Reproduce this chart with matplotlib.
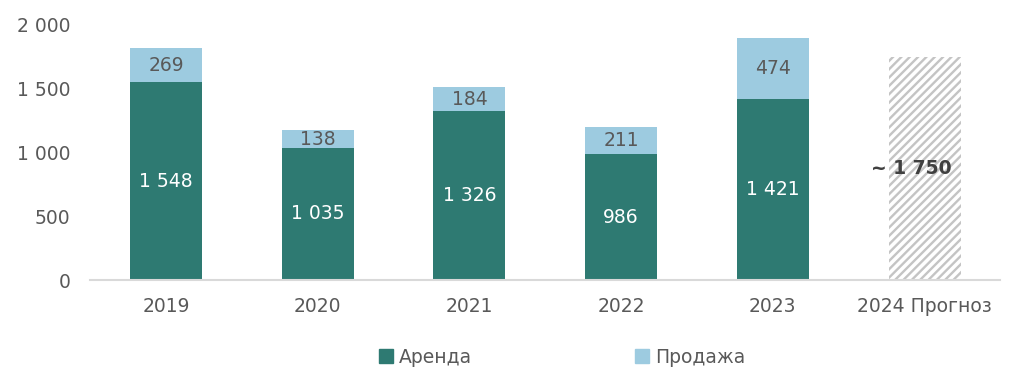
import numpy as np
import matplotlib
matplotlib.use("Agg")
import matplotlib.pyplot as plt
from matplotlib.patches import Patch

# Данные
years = ["2019", "2020", "2021", "2022", "2023", "2024 Прогноз"]
arenda = [1548, 1035, 1326, 986, 1421]
prodazha = [269, 138, 184, 211, 474]
prognoz = 1750

c_arenda = "#2E7A72"
c_prodazha = "#9DCBE0"
c_text = "#595959"

def fmt(v):
    return "{:,}".format(int(v)).replace(",", " ")

plt.rcParams["font.family"] = ["DejaVu Sans"]
plt.rcParams["hatch.linewidth"] = 1.7

fig = plt.figure(figsize=(10.24, 3.82), dpi=100)
ax = fig.add_axes([0.088, 0.267, 0.889, 0.668])

x = np.arange(len(years))
w = 0.475
xa = x[:len(arenda)]

ax.bar(xa, arenda, w, color=c_arenda, label="Аренда")
ax.bar(xa, prodazha, w, bottom=arenda, color=c_prodazha, label="Продажа")
ax.bar(x[-1], prognoz, w, color="white", edgecolor="#C4C4C4", linewidth=0, hatch="////")

for xi, a, p in zip(xa, arenda, prodazha):
    ax.text(xi, a / 2, fmt(a), ha="center", va="center", color="white", fontsize=13.5)
    ax.text(xi, a + p / 2, fmt(p), ha="center", va="center", color=c_text, fontsize=13.5)
ax.text(x[-1] - 0.09, prognoz / 2, "~ " + fmt(prognoz), ha="center", va="center",
        color="#404040", fontsize=13.5, fontweight="bold")

ax.set_xlim(-0.5, len(years) - 0.5)
ax.set_ylim(0, 2000)
ax.set_yticks(np.arange(0, 2001, 500))
ax.set_yticklabels([fmt(v) for v in np.arange(0, 2001, 500)])
ax.set_xticks(x)
ax.set_xticklabels(years)
ax.tick_params(axis="both", length=0, labelsize=13.5, labelcolor=c_text)
ax.tick_params(axis="x", pad=12)
ax.tick_params(axis="y", pad=14)
for s in ["top", "right", "left"]:
    ax.spines[s].set_visible(False)
ax.spines["bottom"].set_color("#D9D9D9")
ax.spines["bottom"].set_linewidth(1.5)

handles = [Patch(color=c_arenda, label="Аренда"), Patch(color=c_prodazha, label="Продажа")]
fig.legend(handles=handles, loc="center", bbox_to_anchor=(0.549, 0.065), ncol=2,
           frameon=False, fontsize=13.5, handlelength=0.75, handleheight=0.75,
           handletextpad=0.3, columnspacing=8.7, labelcolor=c_text)

fig.savefig("out.png", dpi=100)
